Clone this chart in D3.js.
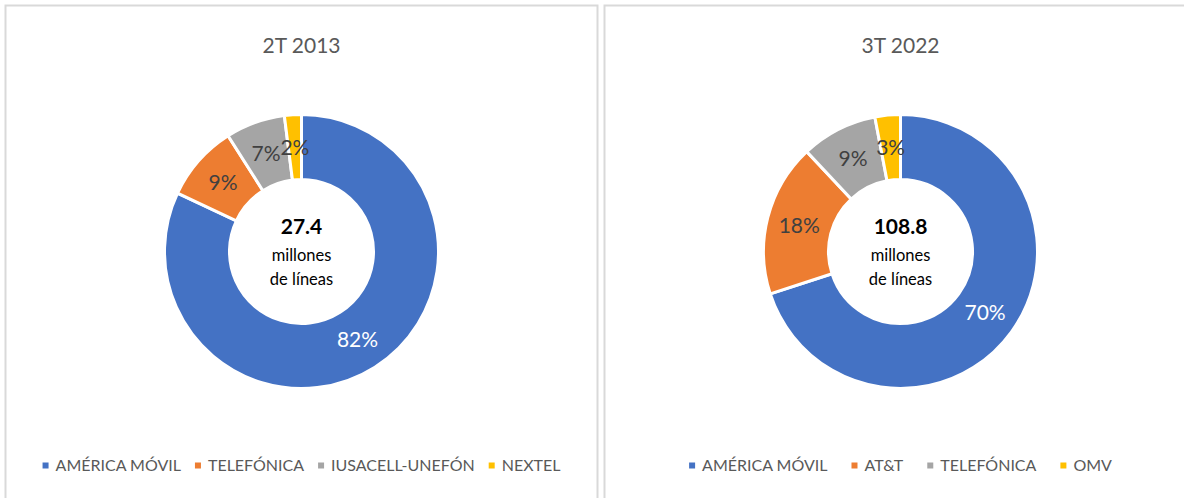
<!DOCTYPE html>
<html>

<head>
    <meta charset="utf-8">
    <title>Líneas móviles por operador</title>
    <style>
        body { margin: 0; background: #fff; }
        svg { display: block; font-family: Lato, "Open Sans", sans-serif; }
    </style>
</head>

<body>
    <svg class="donuts"></svg>
    <script src="https://cdn.jsdelivr.net/npm/d3@7"></script>
    <script>
        // values
        const periods = ["2T 2013", "3T 2022"]
        const totals = ["27.4", "108.8"]
        const centerLines = ["millones", "de líneas"]
        const operators2013 = ["AMÉRICA MÓVIL", "TELEFÓNICA", "IUSACELL-UNEFÓN", "NEXTEL"]
        const shares2013 = [82, 9, 7, 2]
        const operators2022 = ["AMÉRICA MÓVIL", "AT&T", "TELEFÓNICA", "OMV"]
        const shares2022 = [70, 18, 9, 3]
        const colors = ["#4472C4", "#ED7D31", "#A5A5A5", "#FFC000"]

        var width = 1184, height = 498
        const panelW = 592
        const panels = [
            { x: 5.5, title: periods[0], total: totals[0], names: operators2013, values: shares2013, gap: 14 },
            { x: 604.5, title: periods[1], total: totals[1], names: operators2022, values: shares2022, gap: 24 }
        ]

        var svg = d3.select(".donuts")
            .attr("width", width)
            .attr("height", height)

        const outerR = 137, innerR = 72
        var pie = d3.pie().sort(null).value(d => d.value)
        var arc = d3.arc().innerRadius(innerR).outerRadius(outerR)

        panels.forEach(p => {
            var g = svg.append("g").attr("transform", `translate(${p.x}, 5.5)`)

            g.append("rect")
                .attr("width", panelW)
                .attr("height", height + 20)
                .attr("fill", "#fff")
                .attr("stroke", "#d9d9d9")
                .attr("stroke-width", 2)

            g.append("text")
                .attr("x", panelW / 2)
                .attr("y", 47)
                .attr("text-anchor", "middle")
                .attr("fill", "#595959")
                .style("font-size", "21px")
                .text(p.title)

            var color = d3.scaleOrdinal().domain(p.names).range(colors)
            var data = p.names.map((n, i) => ({ name: n, value: p.values[i], i: i }))

            var donut = g.append("g").attr("transform", `translate(${panelW / 2}, 246)`)

            donut.selectAll("path")
                .data(pie(data))
                .enter()
                .append("path")
                .attr("d", arc)
                .attr("fill", d => color(d.data.name))
                .attr("stroke", "#fff")
                .attr("stroke-width", 3)

            donut.selectAll("text.pct")
                .data(pie(data))
                .enter()
                .append("text")
                .attr("class", "pct")
                .attr("transform", d => `translate(${arc.centroid(d)})`)
                .attr("text-anchor", "middle")
                .attr("dy", "0.35em")
                .attr("fill", d => d.data.i == 0 ? "#fff" : "#404040")
                .style("font-size", "21px")
                .text(d => d.data.value + "%")

            donut.append("text")
                .attr("y", -18)
                .attr("text-anchor", "middle")
                .attr("fill", "#000")
                .style("font-size", "21px")
                .style("font-weight", "bold")
                .text(p.total)

            donut.selectAll("text.sub")
                .data(centerLines)
                .enter()
                .append("text")
                .attr("class", "sub")
                .attr("y", (d, i) => 9 + i * 24)
                .attr("text-anchor", "middle")
                .attr("fill", "#000")
                .style("font-size", "16.5px")
                .text(d => d)

            // legend, laid out from measured text widths and centred in the panel
            var legend = g.append("g")
            var items = legend.selectAll("g")
                .data(data)
                .enter()
                .append("g")
            items.append("rect")
                .attr("width", 6)
                .attr("height", 6)
                .attr("y", -3)
                .attr("fill", d => color(d.name))
            items.append("text")
                .attr("x", 13)
                .attr("dy", "0.35em")
                .attr("fill", "#595959")
                .style("font-size", "16px")
                .text(d => d.name)

            let cursor = 0
            items.each(function () {
                let w = 13 + this.querySelector("text").getComputedTextLength()
                d3.select(this).attr("transform", `translate(${cursor}, 0)`)
                cursor += w + p.gap
            })
            let total = cursor - p.gap
            legend.attr("transform", `translate(${(panelW - total) / 2}, 460)`)
        })
    </script>
</body>

</html>
